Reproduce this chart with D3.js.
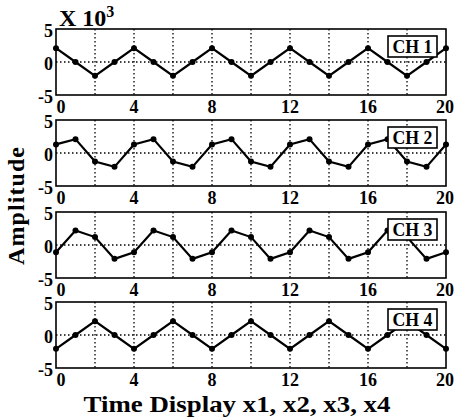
<!DOCTYPE html>
<html><head><meta charset="utf-8">
<script src="https://cdn.jsdelivr.net/npm/d3@7"></script>
<style>body{margin:0;background:#fff}svg{display:block}</style>
</head><body>
<svg id="c" width="454" height="417"></svg>
<script>
const channels = ["CH 1","CH 2","CH 3","CH 4"];
const xValues = d3.range(0,21);
const ch1 = [2.1,0,-2.1,0, 2.1,0,-2.1,0, 2.1,0,-2.1,0, 2.1,0,-2.1,0, 2.1,0,-2.1,0, 2.1];
const ch2 = [1.3,2.1,-1.3,-2.1, 1.3,2.1,-1.3,-2.1, 1.3,2.1,-1.3,-2.1, 1.3,2.1,-1.3,-2.1, 1.3,2.1,-1.3,-2.1, 1.3];
const ch3 = [-1.1,2.2,1.2,-2.1, -1.1,2.2,1.2,-2.1, -1.1,2.2,1.2,-2.1, -1.1,2.2,1.2,-2.1, -1.1,2.2,1.2,-2.1, -1.1];
const ch4 = [-2.1,0,2.1,0, -2.1,0,2.1,0, -2.1,0,2.1,0, -2.1,0,2.1,0, -2.1,0,2.1,0, -2.1];
const series = [ch1,ch2,ch3,ch4];
const xTickLabels = [0,4,8,12,16,20];
const xGrid = d3.range(2,20,2);
const yTicks = [-5,0,5];
const xLabel = "Time Display x1, x2, x3, x4";
const yLabel = "Amplitude";
const expLabel = "X 10";
const expSup = "3";

const svg = d3.select("#c");
const font = "'Liberation Serif','Times New Roman',Times,serif";
const left = 56, right = 446;
const tops = [29,120,212,302];
const h = 66;
const x = d3.scaleLinear().domain([0,20]).range([left,right]);

series.forEach((vals,i)=>{
  const top = tops[i];
  const y = d3.scaleLinear().domain([-5,5]).range([top+h, top]);
  const g = svg.append("g");
  g.selectAll(".vg").data(xGrid).enter().append("line")
    .attr("x1",d=>x(d)).attr("x2",d=>x(d)).attr("y1",top).attr("y2",top+h)
    .attr("stroke","#000").attr("stroke-width",1.3).attr("stroke-dasharray","1.5,2.5");
  g.append("line").attr("x1",left).attr("x2",right).attr("y1",y(0)).attr("y2",y(0))
    .attr("stroke","#000").attr("stroke-width",1.3).attr("stroke-dasharray","1.5,2.5");
  g.append("rect").attr("x",left).attr("y",top).attr("width",right-left).attr("height",h)
    .attr("fill","none").attr("stroke","#000").attr("stroke-width",1.6);
  g.selectAll(".yt").data(yTicks).enter().append("text")
    .attr("x",left-3).attr("y",d=>y(d)+8)
    .attr("text-anchor","end").attr("font-family",font).attr("font-weight","bold")
    .attr("font-size",18).text(d=>d);
  g.selectAll(".xt").data(xTickLabels).enter().append("text")
    .attr("x",d=>d===0?x(d)+5:(d===20?x(d)-1:x(d))).attr("y",top+h+18)
    .attr("text-anchor","middle").attr("font-family",font).attr("font-weight","bold")
    .attr("font-size",18).text(d=>d);
  const line = d3.line().x((d,j)=>x(xValues[j])).y(d=>y(d));
  g.append("path").datum(vals).attr("d",line).attr("fill","none")
    .attr("stroke","#000").attr("stroke-width",2.2).attr("stroke-linejoin","miter");
  g.selectAll(".pt").data(vals).enter().append("circle")
    .attr("cx",(d,j)=>x(xValues[j])).attr("cy",d=>y(d)).attr("r",3).attr("fill","#000");
  g.append("rect").attr("x",388).attr("y",top+7).attr("width",49).attr("height",21)
    .attr("fill","#fff").attr("stroke","#000").attr("stroke-width",1.6);
  g.append("text").attr("x",412.5).attr("y",top+24).attr("text-anchor","middle")
    .attr("font-family",font).attr("font-weight","bold").attr("font-size",19)
    .attr("textLength",40).attr("lengthAdjust","spacingAndGlyphs")
    .text(channels[i]);
});

const ex = svg.append("text").attr("x",59).attr("y",26).attr("font-family",font)
  .attr("font-weight","bold").attr("font-size",24);
ex.append("tspan").text(expLabel);
ex.append("tspan").attr("dy",-9).attr("font-size",16).text(expSup);

svg.append("text").attr("transform","translate(24,206) rotate(-90)")
  .attr("text-anchor","middle").attr("font-family",font).attr("font-weight","bold")
  .attr("font-size",24).attr("textLength",118).attr("lengthAdjust","spacing").text(yLabel);

svg.append("text").attr("x",237).attr("y",412).attr("text-anchor","middle")
  .attr("font-family",font).attr("font-weight","bold").attr("font-size",23)
  .attr("textLength",307).attr("lengthAdjust","spacingAndGlyphs")
  .text(xLabel);
</script>
</body></html>
